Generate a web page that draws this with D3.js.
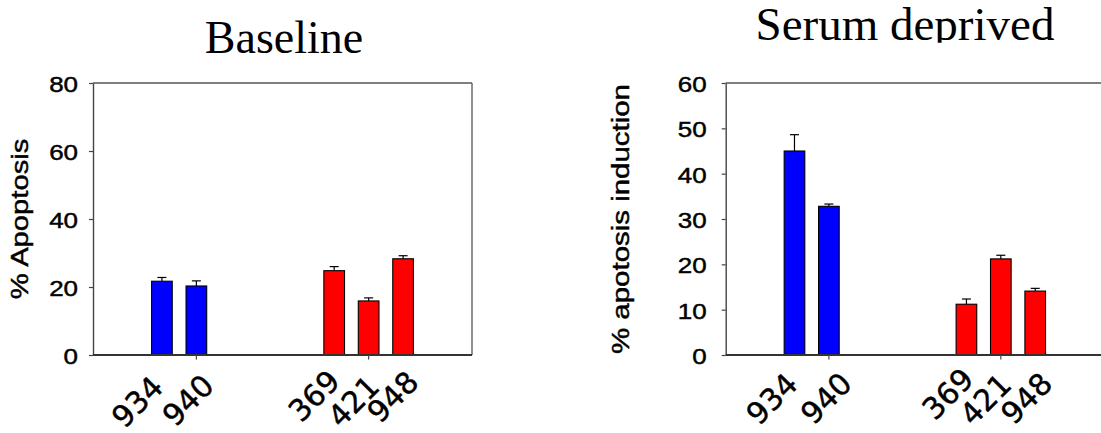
<!DOCTYPE html>
<html>
<head>
<meta charset="utf-8">
<script src="https://cdn.jsdelivr.net/npm/d3@7"></script>
<style>
  html, body { margin: 0; padding: 0; background: #fff; }
  svg { display: block; }
  .sans { stroke: #000; stroke-width: 0.45px; paint-order: stroke; }
</style>
</head>
<body>
<svg id="chart" width="1101" height="433"></svg>
<script>
// Cell lines, in plotting order, and the group each belongs to
const cellLines = ["934", "940", "369", "421", "948"];
const lineGroups = [0, 0, 1, 1, 1];
const groupColors = ["#0000ff", "#ff0000"];

// Baseline apoptosis (%), mean and error
const baselineMean = [21.7, 20.3, 24.8, 15.9, 28.3];
const baselineErr  = [1.1, 1.5, 1.2, 0.9, 0.9];

// Apoptosis induction after serum deprivation (%), mean and error
const serumMean = [45.0, 32.8, 11.2, 21.2, 14.1];
const serumErr  = [3.6, 0.5, 1.15, 0.8, 0.6];

// Y-axis tick values
const baselineTicks = [0, 20, 40, 60, 80];
const serumTicks = [0, 10, 20, 30, 40, 50, 60];

const svg = d3.select("#chart");

const panels = [
  {
    title: "Baseline", titleX: 284, titleY: 52.5, titleSize: 46,
    yLabel: "% Apoptosis", yLabelX: 28, yLabelLen: 1.27,
    mean: baselineMean, err: baselineErr, ticks: baselineTicks, yMax: 80,
    left: 93, right: 472, top: 83, bottom: 355, tickLabelGap: 15,
    labelShift: [[3, 34], [19.5, 32.5], [7.5, 28], [12.5, 33.5], [17.5, 29]]
  },
  {
    title: "Serum deprived", titleX: 905, titleY: 39.5, titleSize: 47, titleClip: 42.7,
    yLabel: "% apotosis induction", yLabelX: 628.5, yLabelLen: 1.28,
    mean: serumMean, err: serumErr, ticks: serumTicks, yMax: 60,
    left: 725.7, right: 1104, top: 83, bottom: 355, tickLabelGap: 19,
    labelShift: [[5, 31], [25, 30.5], [9, 26], [12.5, 31.5], [19, 30.5]]
  }
];

// slot position of each bar: groups separated by three empty slots
const slots = cellLines.map((d, i) => i + lineGroups[i] * 3);
// axis tick under the second bar of each group
const groupTickSlots = d3.groups(slots.map((s, i) => ({ s, g: lineGroups[i] })), d => d.g)
  .map(([, members]) => members[Math.min(1, members.length - 1)].s);

const defs = svg.append("defs");

panels.forEach((p, pi) => {
  const x = d3.scaleLinear().domain([-2, 9]).range([p.left, p.right]);
  const y = d3.scaleLinear().domain([0, p.yMax]).range([p.bottom, p.top]);
  const barW = x(0.6) - x(0);
  const g = svg.append("g");

  // title (clipped along its lower edge where applicable)
  const title = g.append("text")
    .attr("x", p.titleX).attr("y", p.titleY)
    .attr("text-anchor", "middle")
    .style("font-family", "'Liberation Serif', 'Times New Roman', serif")
    .style("font-size", p.titleSize + "px")
    .attr("fill", "#000")
    .text(p.title);
  if (p.titleClip) {
    const id = "titleclip" + pi;
    defs.append("clipPath").attr("id", id)
      .append("rect").attr("x", 0).attr("y", 0).attr("width", 1101).attr("height", p.titleClip);
    title.attr("clip-path", `url(#${id})`);
  }

  // frame: top and right borders
  g.append("line").attr("x1", p.left).attr("x2", p.right).attr("y1", p.top).attr("y2", p.top)
    .attr("stroke", "#555").attr("stroke-width", 1.3);
  g.append("line").attr("x1", p.right).attr("x2", p.right).attr("y1", p.top).attr("y2", p.bottom)
    .attr("stroke", "#555").attr("stroke-width", 1.3);

  // y axis
  const yAxis = d3.axisLeft(y).tickValues(p.ticks).tickSize(4).tickSizeOuter(0).tickFormat(d3.format("d"));
  const ya = g.append("g").attr("transform", `translate(${p.left},0)`).call(yAxis);
  ya.select(".domain").attr("stroke", "#444").attr("stroke-width", 1.4);
  ya.selectAll(".tick line").attr("stroke", "#444").attr("stroke-width", 1.2);
  ya.selectAll(".tick text")
    .attr("class", "sans")
    .attr("x", null).attr("dy", null)
    .attr("text-anchor", "end")
    .attr("transform", `translate(${-p.tickLabelGap},8.5) scale(1.18,1)`)
    .style("font-family", "'Liberation Sans', Arial, sans-serif")
    .style("font-size", "22px")
    .attr("fill", "#000");

  // y axis title
  g.append("text")
    .attr("class", "sans")
    .attr("transform", `translate(${p.yLabelX},${(p.top + p.bottom) / 2}) rotate(-90) scale(${p.yLabelLen},1)`)
    .attr("text-anchor", "middle")
    .style("font-family", "'Liberation Sans', Arial, sans-serif")
    .style("font-size", "23px")
    .attr("fill", "#000")
    .text(p.yLabel);

  // bars
  g.selectAll("rect.bar").data(cellLines).join("rect")
    .attr("class", "bar")
    .attr("x", (d, i) => x(slots[i]) - barW / 2)
    .attr("width", barW)
    .attr("y", (d, i) => y(p.mean[i]))
    .attr("height", (d, i) => y(0) - y(p.mean[i]))
    .attr("fill", (d, i) => groupColors[lineGroups[i]])
    .attr("stroke", "#000").attr("stroke-width", 1.1);

  // error bars (upper half)
  const capW = 9;
  const eb = g.selectAll("g.err").data(cellLines).join("g").attr("class", "err");
  eb.append("line")
    .attr("x1", (d, i) => x(slots[i])).attr("x2", (d, i) => x(slots[i]))
    .attr("y1", (d, i) => y(p.mean[i])).attr("y2", (d, i) => y(p.mean[i] + p.err[i]))
    .attr("stroke", "#000").attr("stroke-width", 1.2);
  eb.append("line")
    .attr("x1", (d, i) => x(slots[i]) - capW / 2).attr("x2", (d, i) => x(slots[i]) + capW / 2)
    .attr("y1", (d, i) => y(p.mean[i] + p.err[i])).attr("y2", (d, i) => y(p.mean[i] + p.err[i]))
    .attr("stroke", "#000").attr("stroke-width", 1.2);

  // x axis line and group ticks
  g.append("line").attr("x1", p.left).attr("x2", p.right).attr("y1", p.bottom).attr("y2", p.bottom)
    .attr("stroke", "#333").attr("stroke-width", 2);
  g.selectAll("line.xtick").data(groupTickSlots).join("line")
    .attr("class", "xtick")
    .attr("x1", d => x(d)).attr("x2", d => x(d))
    .attr("y1", p.bottom).attr("y2", p.bottom + 4.5)
    .attr("stroke", "#444").attr("stroke-width", 1.2);

  // rotated cell line labels
  g.selectAll("text.xlab").data(cellLines).join("text")
    .attr("class", "xlab sans")
    .attr("transform", (d, i) =>
      `translate(${x(slots[i]) + p.labelShift[i][0]},${p.bottom + p.labelShift[i][1]}) rotate(-45)`)
    .attr("text-anchor", "end")
    .style("font-family", "'DejaVu Sans', Verdana, sans-serif")
    .style("font-size", "30px")
    .attr("fill", "#000")
    .text(d => d);
});
</script>
</body>
</html>
